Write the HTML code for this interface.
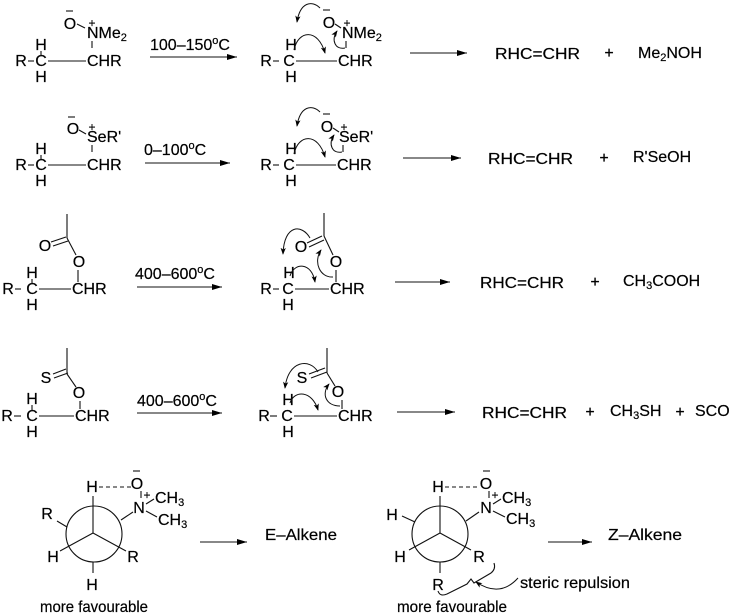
<!DOCTYPE html>
<html><head><meta charset="utf-8">
<style>
html,body{margin:0;padding:0;background:#fff;}
svg{display:block;}
text{font-family:"Liberation Sans",Arial,sans-serif;fill:#000;font-size:16px;stroke:#000;stroke-width:0.2;}
.l{font-size:16px;}
.s{font-size:11px;}
line,path.b,circle{stroke:#111;stroke-width:1.1;fill:none;}
path.c{stroke:#111;stroke-width:1;fill:none;}
</style></head><body>
<svg width="731" height="614" viewBox="0 0 731 614" xmlns="http://www.w3.org/2000/svg">
<defs>
<marker id="ah" viewBox="0 0 10 6" refX="10" refY="3" markerWidth="10" markerHeight="6" markerUnits="userSpaceOnUse" orient="auto">
<path d="M0,0 L10,3 L0,6 z" fill="#000"/>
</marker>
<marker id="ch" viewBox="0 0 8 6" refX="7" refY="3" markerWidth="7" markerHeight="6" markerUnits="userSpaceOnUse" orient="auto">
<path d="M0,0 L8,3 L0,6 L2,3 z" fill="#000"/>
</marker>
</defs>

<!-- ROW 1 LEFT -->
<text x="21" y="66" text-anchor="middle">R</text>
<line x1="28" y1="61" x2="34" y2="61"/>
<text x="41" y="66" text-anchor="middle">C</text>
<text x="41" y="50" text-anchor="middle">H</text>
<line x1="41" y1="51" x2="41" y2="55"/>
<text x="41" y="82" text-anchor="middle">H</text>
<line x1="48" y1="61" x2="86" y2="61"/>
<text x="87" y="66">CHR</text>
<text x="70" y="29" text-anchor="middle">O</text>
<line x1="66" y1="11" x2="73" y2="11"/>
<line x1="77" y1="24" x2="85" y2="28"/>
<text x="87" y="38">NMe<tspan class="s" dy="3">2</tspan></text>
<text x="92" y="27" text-anchor="middle" style="font-size:12px">+</text>
<line x1="92" y1="41" x2="92" y2="48"/>

<text x="150" y="50" class="l">100–150<tspan style="font-size:11px" dy="-6">o</tspan><tspan dy="6">C</tspan></text>
<line x1="150" y1="57" x2="237" y2="57" marker-end="url(#ah)"/>

<!-- ROW 1 RIGHT -->
<text x="266" y="66" text-anchor="middle">R</text>
<line x1="273" y1="61" x2="279" y2="61"/>
<text x="289" y="66" text-anchor="middle">C</text>
<text x="291" y="50" text-anchor="middle">H</text>
<text x="291" y="82" text-anchor="middle">H</text>
<line x1="296" y1="61" x2="337" y2="61"/>
<text x="338" y="66">CHR</text>
<text x="329" y="28" text-anchor="middle">O</text>
<line x1="335" y1="24" x2="341" y2="28"/>
<text x="342" y="38">NMe<tspan class="s" dy="3">2</tspan></text>
<text x="347" y="27" text-anchor="middle" style="font-size:12px">+</text>
<line x1="346" y1="41" x2="346" y2="48"/>
<line x1="323" y1="10" x2="330" y2="10"/>
<path class="c" d="M 320 8 C 312 0, 300 2, 297 22" marker-end="url(#ch)"/>
<path class="c" d="M 294 50 C 298 30, 318 28, 325 53" marker-end="url(#ch)"/>
<path class="c" d="M 345 48 C 335 50, 331 40, 337 31" marker-end="url(#ch)"/>

<line x1="410" y1="53" x2="467" y2="53" marker-end="url(#ah)"/>
<text x="495" y="59" class="l" textLength="85" lengthAdjust="spacingAndGlyphs">RHC=CHR</text>
<text x="609" y="58" class="l" text-anchor="middle">+</text>
<text x="638" y="58" class="l">Me<tspan class="s" dy="3">2</tspan><tspan dy="-3">NOH</tspan></text>

<!-- ROW 2 LEFT -->
<text x="21" y="170" text-anchor="middle">R</text>
<line x1="28" y1="165" x2="34" y2="165"/>
<text x="41" y="170" text-anchor="middle">C</text>
<text x="41" y="154" text-anchor="middle">H</text>
<line x1="41" y1="155" x2="41" y2="159"/>
<text x="41" y="186" text-anchor="middle">H</text>
<line x1="48" y1="165" x2="86" y2="165"/>
<text x="87" y="170">CHR</text>
<text x="73" y="134" text-anchor="middle">O</text>
<line x1="68" y1="117" x2="75" y2="117"/>
<line x1="79" y1="130" x2="86" y2="134"/>
<text x="87" y="142">SeR'</text>
<text x="92" y="131" text-anchor="middle" style="font-size:12px">+</text>
<line x1="92" y1="145" x2="92" y2="152"/>

<text x="144" y="155" class="l">0–100<tspan style="font-size:11px" dy="-6">o</tspan><tspan dy="6">C</tspan></text>
<line x1="145" y1="163" x2="230" y2="163" marker-end="url(#ah)"/>

<!-- ROW 2 RIGHT -->
<text x="266" y="170" text-anchor="middle">R</text>
<line x1="273" y1="165" x2="279" y2="165"/>
<text x="289" y="170" text-anchor="middle">C</text>
<text x="291" y="154" text-anchor="middle">H</text>
<text x="291" y="186" text-anchor="middle">H</text>
<line x1="296" y1="165" x2="336" y2="165"/>
<text x="337" y="170">CHR</text>
<text x="327" y="132" text-anchor="middle">O</text>
<line x1="333" y1="128" x2="339" y2="132"/>
<text x="339" y="142">SeR'</text>
<text x="344" y="131" text-anchor="middle" style="font-size:12px">+</text>
<line x1="343" y1="145" x2="343" y2="152"/>
<line x1="323" y1="114" x2="330" y2="114"/>
<path class="c" d="M 320 112 C 312 104, 300 106, 297 126" marker-end="url(#ch)"/>
<path class="c" d="M 294 154 C 298 134, 318 132, 325 157" marker-end="url(#ch)"/>
<path class="c" d="M 342 152 C 332 154, 328 144, 334 135" marker-end="url(#ch)"/>

<line x1="403" y1="158" x2="461" y2="158" marker-end="url(#ah)"/>
<text x="488" y="164" class="l" textLength="85" lengthAdjust="spacingAndGlyphs">RHC=CHR</text>
<text x="604" y="163" class="l" text-anchor="middle">+</text>
<text x="633" y="162" class="l">R'SeOH</text>

<!-- ROW 3 LEFT -->
<text x="8" y="294" text-anchor="middle">R</text>
<line x1="15" y1="289" x2="21" y2="289"/>
<text x="32" y="294" text-anchor="middle">C</text>
<text x="32" y="278" text-anchor="middle">H</text>
<line x1="32" y1="279" x2="32" y2="283"/>
<text x="32" y="310" text-anchor="middle">H</text>
<line x1="39" y1="289" x2="71" y2="289"/>
<text x="72" y="294">CHR</text>
<text x="79" y="267" text-anchor="middle">O</text>
<line x1="78" y1="270" x2="78" y2="282"/>
<text x="45" y="251" text-anchor="middle">O</text>
<line x1="67" y1="214" x2="67" y2="238"/>
<line x1="51" y1="242" x2="66" y2="237"/>
<line x1="53" y1="246" x2="68" y2="241"/>
<line x1="67" y1="238" x2="76" y2="255"/>

<text x="135" y="279" class="l">400–600<tspan style="font-size:11px" dy="-6">o</tspan><tspan dy="6">C</tspan></text>
<line x1="137" y1="287" x2="222" y2="287" marker-end="url(#ah)"/>

<!-- ROW 3 RIGHT -->
<text x="266" y="294" text-anchor="middle">R</text>
<line x1="273" y1="289" x2="279" y2="289"/>
<text x="288" y="294" text-anchor="middle">C</text>
<text x="289" y="278" text-anchor="middle">H</text>
<text x="288" y="310" text-anchor="middle">H</text>
<line x1="295" y1="289" x2="329" y2="289"/>
<text x="330" y="294">CHR</text>
<text x="336" y="267" text-anchor="middle">O</text>
<line x1="336" y1="270" x2="336" y2="282"/>
<text x="301" y="252" text-anchor="middle">O</text>
<line x1="324" y1="213" x2="324" y2="236"/>
<line x1="307" y1="243" x2="322" y2="236"/>
<line x1="309" y1="247" x2="324" y2="240"/>
<line x1="324" y1="236" x2="333" y2="255"/>
<path class="c" d="M 310 238 C 302 224, 284 224, 283 254" marker-end="url(#ch)"/>
<path class="c" d="M 333 277 C 320 278, 313 262, 321 250" marker-end="url(#ch)"/>
<path class="c" d="M 290 276 C 294 262, 312 262, 315 282" marker-end="url(#ch)"/>

<line x1="395" y1="282" x2="450" y2="282" marker-end="url(#ah)"/>
<text x="480" y="288" class="l" textLength="84" lengthAdjust="spacingAndGlyphs">RHC=CHR</text>
<text x="595" y="287" class="l" text-anchor="middle">+</text>
<text x="623" y="286" class="l">CH<tspan class="s" dy="3">3</tspan><tspan dy="-3">COOH</tspan></text>

<!-- ROW 4 LEFT -->
<text x="7" y="421" text-anchor="middle">R</text>
<line x1="14" y1="416" x2="21" y2="416"/>
<text x="32" y="421" text-anchor="middle">C</text>
<text x="32" y="404" text-anchor="middle">H</text>
<line x1="32" y1="405" x2="32" y2="410"/>
<text x="32" y="437" text-anchor="middle">H</text>
<line x1="39" y1="416" x2="74" y2="416"/>
<text x="75" y="421">CHR</text>
<text x="79" y="398" text-anchor="middle">O</text>
<line x1="80" y1="401" x2="80" y2="409"/>
<text x="46" y="383" text-anchor="middle">S</text>
<line x1="67" y1="348" x2="67" y2="374"/>
<line x1="53" y1="374" x2="66" y2="369"/>
<line x1="54" y1="378" x2="68" y2="373"/>
<line x1="67" y1="374" x2="76" y2="387"/>

<text x="137" y="406" class="l">400–600<tspan style="font-size:11px" dy="-6">o</tspan><tspan dy="6">C</tspan></text>
<line x1="137" y1="413" x2="222" y2="413" marker-end="url(#ah)"/>

<!-- ROW 4 RIGHT -->
<text x="264" y="421" text-anchor="middle">R</text>
<line x1="270" y1="416" x2="277" y2="416"/>
<text x="287" y="421" text-anchor="middle">C</text>
<text x="288" y="405" text-anchor="middle">H</text>
<text x="288" y="437" text-anchor="middle">H</text>
<line x1="294" y1="416" x2="337" y2="416"/>
<text x="338" y="421">CHR</text>
<text x="338" y="397" text-anchor="middle">O</text>
<line x1="342" y1="400" x2="342" y2="409"/>
<text x="302" y="383" text-anchor="middle">S</text>
<line x1="327" y1="348" x2="327" y2="373"/>
<line x1="309" y1="374" x2="325" y2="368"/>
<line x1="311" y1="378" x2="327" y2="372"/>
<line x1="327" y1="373" x2="335" y2="386"/>
<path class="c" d="M 318 372 C 310 358, 288 360, 285 388" marker-end="url(#ch)"/>
<path class="c" d="M 340 406 C 326 406, 321 394, 329 384" marker-end="url(#ch)"/>
<path class="c" d="M 290 403 C 294 390, 312 390, 318 410" marker-end="url(#ch)"/>

<line x1="397" y1="412" x2="455" y2="412" marker-end="url(#ah)"/>
<text x="482" y="418" class="l" textLength="85" lengthAdjust="spacingAndGlyphs">RHC=CHR</text>
<text x="590" y="417" class="l" text-anchor="middle">+</text>
<text x="610" y="416" class="l">CH<tspan class="s" dy="3">3</tspan><tspan dy="-3">SH</tspan></text>
<text x="680" y="417" class="l" text-anchor="middle">+</text>
<text x="695" y="416" class="l">SCO</text>

<!-- ROW 5 LEFT NEWMAN -->
<circle cx="94" cy="534" r="28"/>
<line x1="93" y1="533" x2="93" y2="496"/>
<line x1="93" y1="533" x2="60" y2="551"/>
<line x1="93" y1="533" x2="126" y2="551"/>
<line x1="67" y1="527" x2="57" y2="521"/>
<line x1="121" y1="520" x2="133" y2="512"/>
<line x1="93" y1="562" x2="93" y2="573"/>
<text x="92" y="492" text-anchor="middle">H</text>
<text x="47" y="519" text-anchor="middle">R</text>
<text x="53" y="562" text-anchor="middle">H</text>
<text x="133" y="562" text-anchor="middle">R</text>
<text x="92" y="590" text-anchor="middle">H</text>
<line x1="99" y1="487" x2="131" y2="487" stroke-dasharray="4,3"/>
<text x="137" y="489" text-anchor="middle">O</text>
<line x1="133" y1="471" x2="140" y2="471"/>
<line x1="141" y1="491" x2="141" y2="498"/>
<text x="147" y="499" text-anchor="middle" style="font-size:12px">+</text>
<text x="139" y="513" text-anchor="middle">N</text>
<line x1="146" y1="504" x2="154" y2="499"/>
<text x="155" y="503">CH<tspan class="s" dy="3">3</tspan></text>
<line x1="146" y1="511" x2="157" y2="517"/>
<text x="158" y="525">CH<tspan class="s" dy="3">3</tspan></text>
<text x="40" y="612" textLength="108" lengthAdjust="spacingAndGlyphs">more favourable</text>
<line x1="200" y1="542" x2="247" y2="542" marker-end="url(#ah)"/>
<text x="265" y="540" class="l" textLength="72" lengthAdjust="spacingAndGlyphs">E–Alkene</text>

<!-- ROW 5 RIGHT NEWMAN -->
<circle cx="440" cy="534" r="28"/>
<line x1="440" y1="533" x2="440" y2="496"/>
<line x1="440" y1="533" x2="409" y2="550"/>
<line x1="440" y1="533" x2="471" y2="550"/>
<line x1="415" y1="522" x2="402" y2="516"/>
<line x1="466" y1="521" x2="479" y2="512"/>
<line x1="440" y1="562" x2="440" y2="573"/>
<text x="438" y="492" text-anchor="middle">H</text>
<text x="392" y="520" text-anchor="middle">H</text>
<text x="400" y="562" text-anchor="middle">H</text>
<text x="479" y="562" text-anchor="middle">R</text>
<text x="438" y="590" text-anchor="middle">R</text>
<line x1="445" y1="487" x2="479" y2="487" stroke-dasharray="4,3"/>
<text x="486" y="489" text-anchor="middle">O</text>
<line x1="483" y1="471" x2="490" y2="471"/>
<line x1="489" y1="491" x2="489" y2="498"/>
<text x="495" y="499" text-anchor="middle" style="font-size:12px">+</text>
<text x="486" y="513" text-anchor="middle">N</text>
<line x1="493" y1="504" x2="501" y2="499"/>
<text x="502" y="503">CH<tspan class="s" dy="3">3</tspan></text>
<line x1="493" y1="511" x2="505" y2="517"/>
<text x="506" y="524">CH<tspan class="s" dy="3">3</tspan></text>
<path class="b" d="M 438 591 Q 440 597 447 594 L 467 584 L 471 579 L 474 583 L 491 573 Q 496 569 494 563"/>
<path class="c" d="M 518 578 Q 500 598 476 582" marker-end="url(#ch)"/>
<text x="520" y="588" class="l" textLength="110" lengthAdjust="spacingAndGlyphs">steric repulsion</text>
<text x="397" y="612" textLength="110" lengthAdjust="spacingAndGlyphs">more favourable</text>
<line x1="548" y1="542" x2="592" y2="542" marker-end="url(#ah)"/>
<text x="608" y="540" class="l" textLength="74" lengthAdjust="spacingAndGlyphs">Z–Alkene</text>
</svg>
</body></html>
